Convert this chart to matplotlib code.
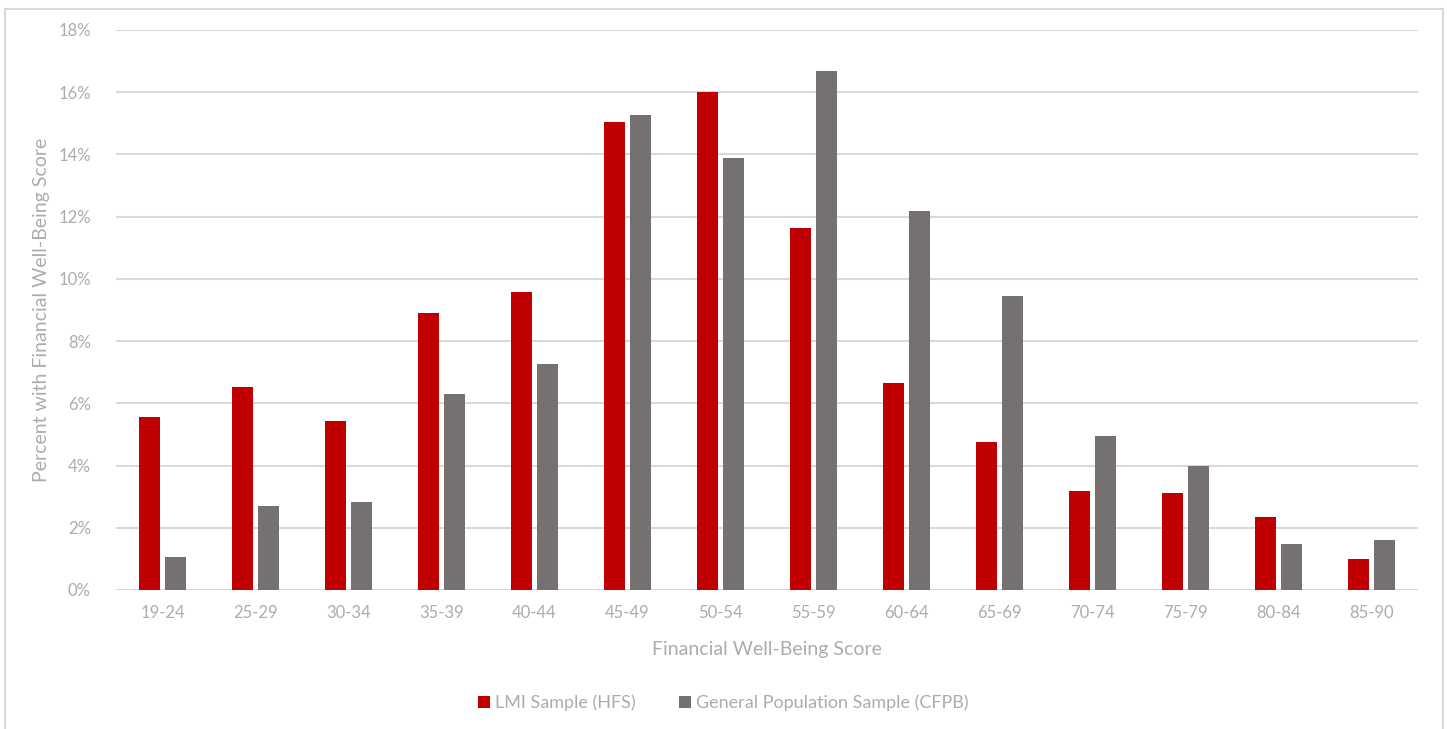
import matplotlib.pyplot as plt
import numpy as np
from matplotlib.patches import Rectangle

categories = ['19-24', '25-29', '30-34', '35-39', '40-44', '45-49', '50-54',
              '55-59', '60-64', '65-69', '70-74', '75-79', '80-84', '85-90']
lmi = [5.56, 6.53, 5.43, 8.9, 9.58, 15.05, 16.01, 11.64, 6.66, 4.76, 3.18, 3.12, 2.35, 1.0]
general = [1.06, 2.70, 2.83, 6.3, 7.27, 15.27, 13.89, 16.69, 12.19, 9.45, 4.95, 3.99, 1.48, 1.61]
series_names = ['LMI Sample (HFS)', 'General Population Sample (CFPB)']

plt.rcParams['font.family'] = ['Lato', 'DejaVu Sans']
text_c = '#AFABAB'

fig = plt.figure(figsize=(14.47, 7.29), dpi=100)
ax = fig.add_axes([116/1447, 1-590/729, 1302/1447, 560/729])

# chart frame
fig.patches.append(Rectangle((5/1447, -0.01), 1438/1447, 1-9/729+0.01,
                             transform=fig.transFigure, fill=False,
                             edgecolor='#D9D9D9', linewidth=1.5))

x = np.arange(len(categories))
width = 0.226
ax.bar(x - 0.14, lmi, width, color='#C00000', label=series_names[0], zorder=3)
ax.bar(x + 0.14, general, width, color='#767171', label=series_names[1], zorder=3)

ax.set_xlim(-0.5, len(categories) - 0.5)
ax.set_ylim(0, 18)
ax.set_yticks(np.arange(0, 19, 2))
ax.set_yticklabels([f'{v}%' for v in range(0, 19, 2)])
ax.set_xticks(x)
ax.set_xticklabels(categories)
ax.grid(axis='y', color='#D9D9D9', linewidth=1.5, zorder=0)
for s in ax.spines.values():
    s.set_visible(False)
ax.tick_params(length=0, colors=text_c, labelsize=12)
ax.tick_params(axis='x', pad=11)
ax.tick_params(axis='y', pad=18)

ax.set_xlabel('Financial Well-Being Score', color=text_c, fontsize=14, labelpad=14)
ax.set_ylabel('Percent with Financial Well-Being Score', color=text_c, fontsize=14, labelpad=6)

leg = fig.legend(loc='center', bbox_to_anchor=(0.5, 1-703/729), ncol=2, frameon=False,
                 fontsize=13, handlelength=0.65, handleheight=0.65, handletextpad=0.3,
                 columnspacing=2.4, labelcolor=text_c)

fig.savefig('out.png', dpi=100)
